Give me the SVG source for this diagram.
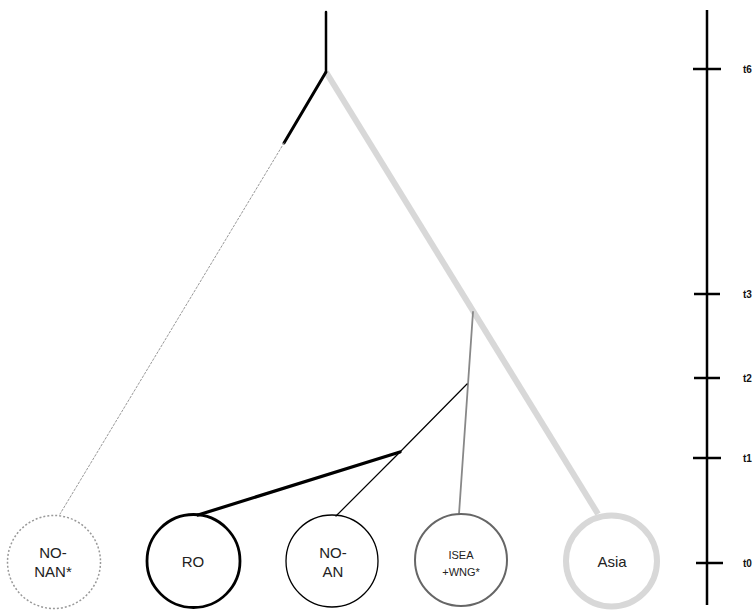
<svg xmlns="http://www.w3.org/2000/svg" width="756" height="611" viewBox="0 0 756 611">
<style>
.lbl{font-family:"Liberation Sans",Arial,sans-serif;font-size:15px;fill:#222;text-anchor:middle}
.sm{font-size:11px}
.tl{font-family:"Liberation Sans",Arial,sans-serif;font-size:10px;font-weight:bold;fill:#111}
.tick{stroke:#000;stroke-width:2.5}
</style>
<rect width="756" height="611" fill="#fff"/>
<g id="connectors" fill="none" stroke-linecap="round">
  <line x1="326" y1="12" x2="326" y2="72" stroke="#000" stroke-width="2.5"/>
  <line x1="326" y1="72" x2="598" y2="514" stroke="#d8d8d8" stroke-width="6" stroke-linecap="butt"/>
  <line x1="326" y1="72" x2="284" y2="143" stroke="#000" stroke-width="3"/>
  <line x1="284" y1="143" x2="60" y2="514" stroke="#999" stroke-width="1" stroke-dasharray="2 2"/>
  <line x1="473" y1="312" x2="459" y2="514" stroke="#888" stroke-width="1.8"/>
  <line x1="467" y1="384" x2="400" y2="452" stroke="#000" stroke-width="1.2"/>
  <line x1="400" y1="452" x2="336" y2="516" stroke="#000" stroke-width="1.2"/>
  <line x1="400" y1="452" x2="198" y2="515" stroke="#000" stroke-width="3.2"/>
</g>
<g id="node-nonan">
  <circle cx="54" cy="562" r="46.5" fill="none" stroke="#999" stroke-width="1.5" stroke-dasharray="2 2"/>
  <text class="lbl" x="53" y="558">NO-</text>
  <text class="lbl" x="53" y="577">NAN*</text>
</g>
<g id="node-ro">
  <circle cx="193.5" cy="561" r="46.5" fill="none" stroke="#000" stroke-width="2.8"/>
  <text class="lbl" x="193" y="567">RO</text>
</g>
<g id="node-noan">
  <circle cx="332" cy="561" r="46" fill="none" stroke="#000" stroke-width="1.3"/>
  <text class="lbl" x="333" y="558">NO-</text>
  <text class="lbl" x="333" y="577">AN</text>
</g>
<g id="node-isea">
  <circle cx="461" cy="560" r="46" fill="none" stroke="#666" stroke-width="2"/>
  <text class="lbl sm" x="461" y="559">ISEA</text>
  <text class="lbl sm" x="461" y="576">+WNG*</text>
</g>
<g id="node-asia">
  <circle cx="611.5" cy="561" r="45.5" fill="none" stroke="#d8d8d8" stroke-width="6"/>
  <text class="lbl" x="612" y="567">Asia</text>
</g>
<g id="timeline">
  <line x1="707" y1="10" x2="707" y2="605" stroke="#000" stroke-width="2.5"/>
  <line class="tick" x1="693" y1="69" x2="721" y2="69"/>
  <line class="tick" x1="694" y1="294" x2="720" y2="294"/>
  <line class="tick" x1="694" y1="378" x2="720" y2="378"/>
  <line class="tick" x1="693" y1="458" x2="721" y2="458"/>
  <line class="tick" x1="696" y1="563" x2="723" y2="563"/>
  <text class="tl" x="743" y="73">t6</text>
  <text class="tl" x="743" y="298">t3</text>
  <text class="tl" x="743" y="382">t2</text>
  <text class="tl" x="743" y="462">t1</text>
  <text class="tl" x="743" y="567">t0</text>
</g>
</svg>
